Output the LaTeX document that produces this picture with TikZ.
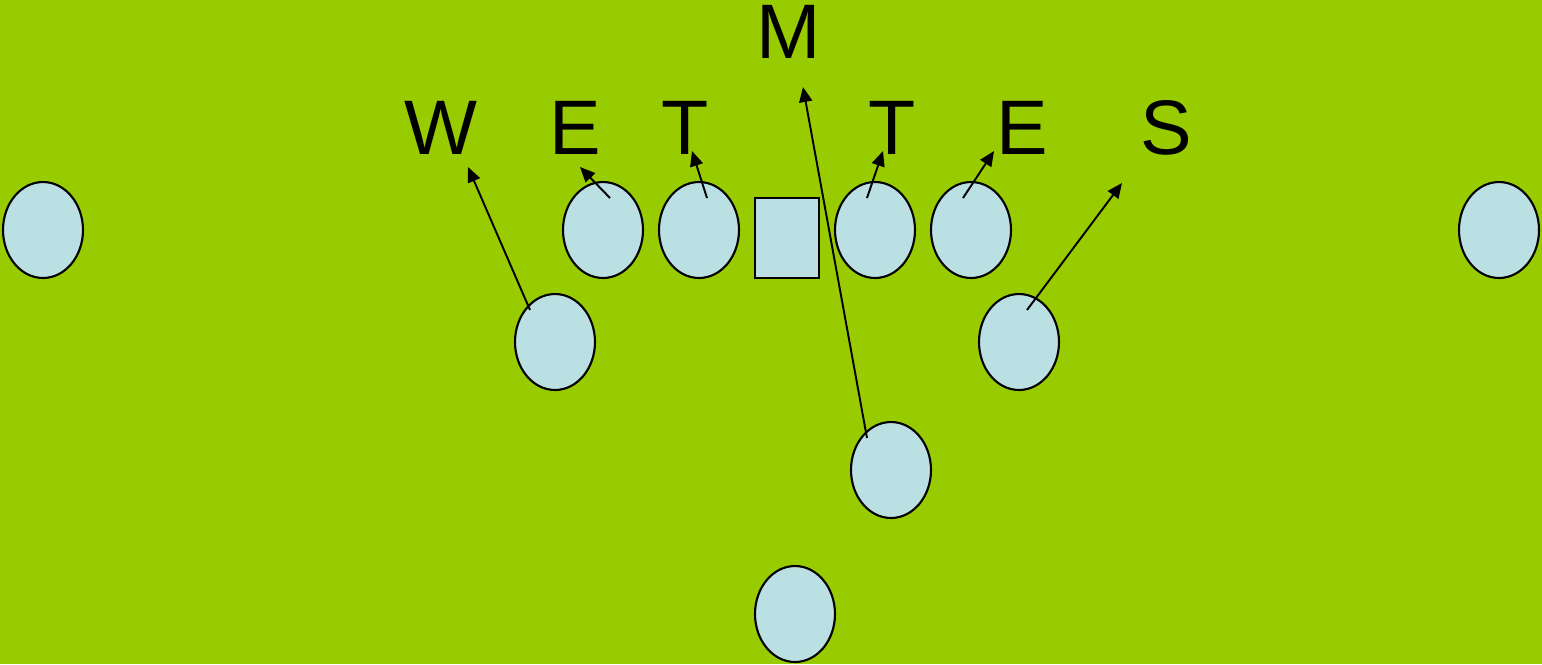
\documentclass[tikz,border=0pt]{standalone}
\usepackage{fontspec}
\setmainfont{Liberation Sans}
\usetikzlibrary{shapes.geometric,arrows.meta}
\definecolor{field}{HTML}{99CC00}
\definecolor{player}{HTML}{BBE0E3}
\begin{document}
\begin{tikzpicture}[x=0.02cm, y=-0.02cm]
\tikzstyle{man}=[draw, ellipse, line width=1.2pt, fill=player, minimum width=1.6cm, minimum height=1.92cm, inner sep=0pt]
\tikzstyle{ball}=[draw, rectangle, line width=1.2pt, fill=player, minimum width=1.28cm, minimum height=1.6cm, inner sep=0pt]
\tikzstyle{tag}=[font=\fontsize{44}{44}\selectfont, inner sep=0pt]
\tikzstyle{move}=[draw, line width=1.1pt, -{Triangle[length=0.3cm, width=0.26cm]}]

% Field
\fill[field] (0,0) rectangle (1542,664);
\useasboundingbox (0,0) rectangle (1542,664);

% Offense
\node[man] (wr1) at (43,230) {};
\node[man] (lt) at (603,230) {};
\node[man] (lg) at (699,230) {};
\node[ball] (c) at (787,238) {};
\node[man] (rg) at (875,230) {};
\node[man] (rt) at (971,230) {};
\node[man] (wr2) at (1499,230) {};
\node[man] (te1) at (555,342) {};
\node[man] (te2) at (1019,342) {};
\node[man] (qb) at (891,470) {};
\node[man] (rb) at (795,614) {};

% Defense labels
\node[tag] (m) at (789,32) {M};
\node[tag] (w) at (441,128) {W};
\node[tag] (e1) at (575,128) {E};
\node[tag] (t1) at (685,128) {T};
\node[tag] (t2) at (892,128) {T};
\node[tag] (e2) at (1022,128) {E};
\node[tag] (s) at (1166,128) {S};

% Block start and end points
\coordinate (te1a) at (530,310);
\coordinate (wb) at (468,167);
\coordinate (lta) at (610,198);
\coordinate (e1b) at (580,167);
\coordinate (lga) at (707,198);
\coordinate (t1b) at (692,151);
\coordinate (qba) at (867,438);
\coordinate (mb) at (803,87);
\coordinate (rga) at (867,198);
\coordinate (t2b) at (883,151);
\coordinate (rta) at (963,198);
\coordinate (e2b) at (994,151);
\coordinate (te2a) at (1027,310);
\coordinate (sb) at (1122,183);

% Blocks
\draw[move] (te1a) -- (wb);
\draw[move] (lta) -- (e1b);
\draw[move] (lga) -- (t1b);
\draw[move] (qba) -- (mb);
\draw[move] (rga) -- (t2b);
\draw[move] (rta) -- (e2b);
\draw[move] (te2a) -- (sb);
\end{tikzpicture}
\end{document}
